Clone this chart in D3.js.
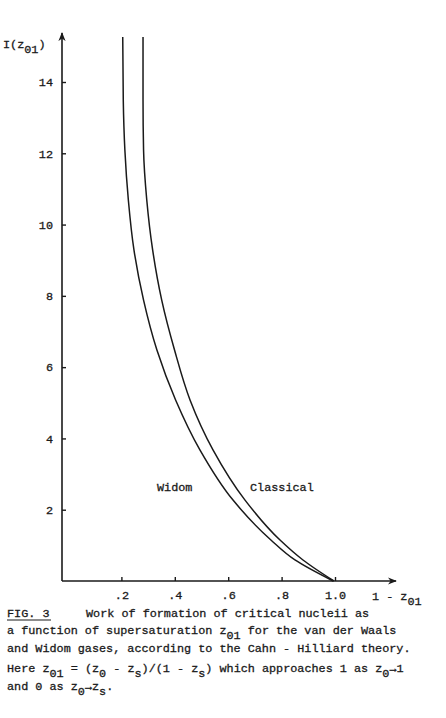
<!DOCTYPE html>
<html>
<head>
<meta charset="utf-8">
<script src="https://cdn.jsdelivr.net/npm/d3@7"></script>
<style>
  body { margin: 0; background: #fff; }
  text { font-family: "Liberation Mono", "Courier New", monospace; font-size: 11.8px; fill: #1a1a1a;
         stroke: #1a1a1a; stroke-width: 0.3px; }
</style>
</head>
<body>
<script>
// I(z01) values along the curves
var iValues    = [15.26, 13.5, 12.09, 10.69, 9.29, 7.88, 6.48, 5.08, 3.68, 2.27, 1.15, 0.59, 0];
// 1 - z01 for each I value
var widomX     = [0.205, 0.207, 0.213, 0.226, 0.247, 0.283, 0.333, 0.403, 0.494, 0.618, 0.760, 0.850, 0.993];
var classicalX = [0.281, 0.281, 0.283, 0.295, 0.317, 0.351, 0.399, 0.457, 0.543, 0.663, 0.794, 0.880, 0.996];
var xTicks = [0.2, 0.4, 0.6, 0.8, 1.0];
var xTickLabels = [".2", ".4", ".6", ".8", "1.0"];
var yTicks = [2, 4, 6, 8, 10, 12, 14];

var width = 446, height = 718;
var svg = d3.select("body").append("svg").attr("width", width).attr("height", height);
svg.append("rect").attr("width", width).attr("height", height).attr("fill", "#fff");

var xScale = d3.scaleLinear().domain([0, 1]).range([68, 335]);
var yScale = d3.scaleLinear().domain([0, 14]).range([581, 82]);
var axisX = 62, axisY = yScale(0);

// arrow head
svg.append("defs").append("marker")
  .attr("id", "arr").attr("viewBox", "0 0 10 10").attr("refX", 9).attr("refY", 5)
  .attr("markerWidth", 9).attr("markerHeight", 9).attr("markerUnits", "userSpaceOnUse")
  .attr("orient", "auto")
  .append("path").attr("d", "M0,1 L10,5 L0,9 L3,5 Z").attr("fill", "#1a1a1a");

// axis lines with arrows
svg.append("line").attr("x1", axisX).attr("y1", axisY).attr("x2", axisX).attr("y2", 33)
  .attr("stroke", "#1a1a1a").attr("stroke-width", 1.6).attr("marker-end", "url(#arr)");
svg.append("line").attr("x1", axisX).attr("y1", axisY).attr("x2", 396).attr("y2", axisY)
  .attr("stroke", "#1a1a1a").attr("stroke-width", 1.6).attr("marker-end", "url(#arr)");

// y axis ticks
var gy = svg.append("g").attr("transform", "translate(" + axisX + ",0)")
  .call(d3.axisLeft(yScale).tickValues(yTicks).tickSize(-4).tickPadding(9).tickFormat(d3.format("d")));
gy.select(".domain").remove();
gy.selectAll("line").attr("stroke", "#1a1a1a").attr("stroke-width", 1.4);
gy.selectAll("text").attr("font-size", null).attr("font-family", null).attr("fill", null);

// x axis ticks
var gx = svg.append("g").attr("transform", "translate(0," + axisY + ")")
  .call(d3.axisBottom(xScale).tickValues(xTicks).tickSize(-4).tickPadding(9.5)
    .tickFormat(function(d, i) { return xTickLabels[i]; }));
gx.select(".domain").remove();
gx.selectAll("line").attr("stroke", "#1a1a1a").attr("stroke-width", 1.4);
gx.selectAll("text").attr("font-size", null).attr("font-family", null).attr("fill", null);

// curves
var line = d3.line()
  .x(function(d) { return xScale(d[0]); })
  .y(function(d) { return yScale(d[1]); })
  .curve(d3.curveMonotoneY);
[widomX, classicalX].forEach(function(xs) {
  svg.append("path")
    .datum(xs.map(function(x, i) { return [x, iValues[i]]; }))
    .attr("fill", "none").attr("stroke", "#1a1a1a").attr("stroke-width", 1.5)
    .attr("d", line);
});

svg.append("text").attr("x", 157).attr("y", 491).text("Widom");
svg.append("text").attr("x", 250).attr("y", 491).text("Classical");

// text with subscripts: parts are [string, isSub]
function richText(x, y, parts) {
  var t = svg.append("text").attr("x", x).attr("y", y).style("white-space", "pre");
  var sub = false;
  parts.forEach(function(p) {
    var dy = 0;
    if (p[1] && !sub) dy = 5;
    if (!p[1] && sub) dy = -5;
    sub = p[1];
    t.append("tspan").attr("dy", dy).text(p[0]);
  });
  return t;
}

// axis titles
richText(3, 48, [["I(z", false], ["01", true], [")", false]]);
richText(372, 600, [["1 - z", false], ["01", true]]);

// caption
svg.append("text").attr("x", 7).attr("y", 617).text("FIG. 3");
svg.append("line").attr("x1", 7).attr("x2", 51).attr("y1", 620).attr("y2", 620)
  .attr("stroke", "#1a1a1a").attr("stroke-width", 1);
svg.append("text").attr("x", 86).attr("y", 617).text("Work of formation of critical nucleii as");
richText(7, 634, [["a function of supersaturation z", false], ["01", true], [" for the van der Waals", false]]);
svg.append("text").attr("x", 7).attr("y", 652).text("and Widom gases, according to the Cahn - Hilliard theory.");
richText(7, 672, [["Here z", false], ["01", true], [" = (z", false], ["0", true], [" - z", false], ["s", true],
  [")/(1 - z", false], ["s", true], [") which approaches 1 as z", false], ["0", true], ["\u21921", false]]);
richText(7, 690, [["and 0 as z", false], ["0", true], ["\u2192", false], ["z", false], ["s", true], [".", false]]);
</script>
</body>
</html>
